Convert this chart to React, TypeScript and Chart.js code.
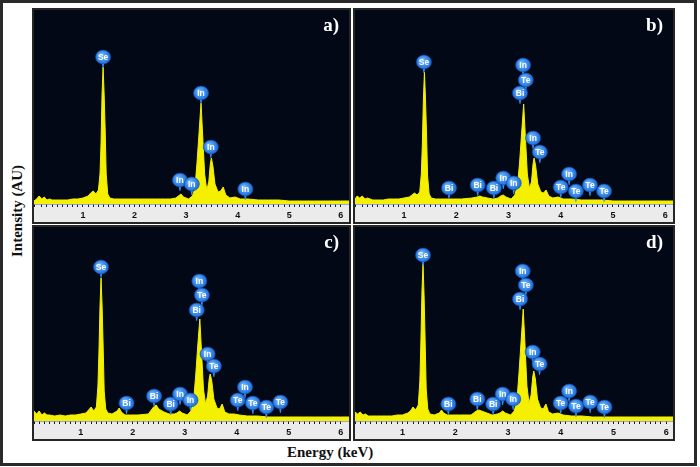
import React, { useEffect, useRef } from "react";
import { Chart, registerables } from "chart.js";

Chart.register(...registerables);

// Energy grid (keV)
const ENERGY = [
  0.05, 0.1, 0.15, 0.2, 0.25, 0.3, 0.35, 0.4, 0.5, 0.6, 0.7, 0.8, 0.9, 1.0, 1.1,
  1.15, 1.2, 1.25, 1.3, 1.33, 1.35, 1.37, 1.39, 1.41, 1.43, 1.45, 1.48, 1.52,
  1.6, 1.7, 1.74, 1.78, 1.85, 1.95, 2.1, 2.3, 2.4, 2.45, 2.5, 2.6, 2.7, 2.8,
  2.85, 2.9, 2.95, 3.05, 3.12, 3.17, 3.21, 3.25, 3.29, 3.32, 3.36, 3.4,
  3.44, 3.47, 3.49, 3.52, 3.56, 3.62, 3.67, 3.72, 3.77, 3.85, 3.95,
  4.05, 4.2, 4.4, 4.6, 4.8, 5.0, 5.5, 6.0, 6.16,
];

const SPEC_A = [
  3, 5, 8, 5, 7, 4, 5, 4, 4, 4, 4, 5, 5, 6, 8,
  11, 13, 10, 14, 30, 60, 110, 137, 110, 75, 30, 10, 6,
  5, 5, 5, 5, 5, 5, 5, 5, 5, 5, 5, 5, 5, 6,
  8, 10, 7, 5, 8, 15, 40, 70, 101, 70, 30, 14,
  22, 40, 46, 38, 20, 12, 13, 17, 9, 6, 7,
  5, 5, 4, 4, 4, 3, 3, 3, 3,
];

const SPEC_B = [
  4, 8, 6, 8, 5, 6, 5, 4, 4, 4, 5, 5, 5, 6, 7,
  9, 11, 9, 12, 30, 60, 105, 132, 105, 70, 28, 10, 6,
  5, 5, 5, 5, 5, 5, 5, 6, 7, 8, 7, 6, 5, 6,
  8, 9, 7, 5, 9, 18, 40, 70, 100, 70, 30, 16,
  22, 40, 46, 38, 20, 12, 11, 14, 8, 6, 7,
  5, 5, 4, 4, 4, 3, 3, 3, 3,
];

const SPEC_C = [
  4, 10, 7, 10, 6, 8, 6, 6, 5, 6, 5, 6, 6, 7, 8,
  11, 14, 10, 14, 35, 70, 115, 143, 115, 75, 30, 12, 8,
  7, 10, 13, 9, 6, 6, 6, 7, 14, 16, 12, 9, 7, 7,
  8, 10, 8, 6, 10, 20, 45, 75, 102, 72, 32, 17,
  25, 42, 47, 40, 22, 13, 12, 17, 9, 7, 7,
  6, 5, 5, 4, 4, 4, 4, 4, 4,
];

const SPEC_D = [
  4, 9, 7, 9, 6, 7, 5, 5, 5, 5, 5, 5, 6, 6, 8,
  10, 14, 11, 16, 40, 80, 130, 157, 125, 80, 32, 12, 7,
  6, 8, 11, 8, 6, 6, 6, 6, 10, 11, 10, 8, 6, 7,
  8, 10, 8, 6, 10, 20, 48, 80, 112, 80, 35, 18,
  26, 44, 50, 42, 22, 13, 12, 17, 9, 7, 8,
  6, 5, 5, 4, 4, 4, 4, 4, 4,
];

// Peak markers: [element, energy keV, marker height (same units as spectrum)]
const PEAKS_A: [string, number, number][] = [
  ["Se", 1.39, 147],
  ["In", 3.29, 111],
  ["In", 3.48, 57],
  ["In", 2.88, 24],
  ["In", 3.11, 20],
  ["In", 4.15, 15],
];

const PEAKS_B: [string, number, number][] = [
  ["Se", 1.38, 142],
  ["Bi", 1.86, 16],
  ["Bi", 2.41, 19],
  ["Bi", 2.72, 16],
  ["In", 2.9, 26],
  ["In", 3.1, 21],
  ["In", 3.28, 139],
  ["Te", 3.33, 124],
  ["Bi", 3.22, 111],
  ["In", 3.47, 66],
  ["Te", 3.6, 52],
  ["In", 4.16, 30],
  ["Te", 4.0, 17],
  ["Te", 4.29, 13],
  ["Te", 4.56, 19],
  ["Te", 4.83, 13],
];

const PEAKS_C: [string, number, number][] = [
  ["Se", 1.39, 154],
  ["Bi", 1.88, 18],
  ["Bi", 2.41, 25],
  ["Bi", 2.73, 17],
  ["In", 2.91, 27],
  ["In", 3.11, 21],
  ["In", 3.28, 140],
  ["Te", 3.33, 126],
  ["Bi", 3.23, 111],
  ["In", 3.44, 67],
  ["Te", 3.56, 55],
  ["In", 4.16, 34],
  ["Te", 4.02, 21],
  ["Te", 4.31, 18],
  ["Te", 4.57, 14],
  ["Te", 4.84, 19],
];

const PEAKS_D: [string, number, number][] = [
  ["Se", 1.39, 166],
  ["Bi", 1.87, 17],
  ["Bi", 2.42, 22],
  ["Bi", 2.72, 17],
  ["In", 2.9, 27],
  ["In", 3.1, 22],
  ["In", 3.28, 150],
  ["Te", 3.34, 136],
  ["Bi", 3.23, 122],
  ["In", 3.47, 69],
  ["Te", 3.6, 57],
  ["In", 4.16, 30],
  ["Te", 4.0, 18],
  ["Te", 4.29, 15],
  ["Te", 4.56, 19],
  ["Te", 4.83, 14],
];

const PANEL_LETTERS = ["a)", "b)", "c)", "d)"];
const X_RANGES: [number, number][] = [
  [0.05, 6.16],
  [0.06, 6.15],
  [0.1, 6.16],
  [0.1, 6.13],
];
const Y_MAX = 194;

const X_TITLE = "Energy (keV)";
const Y_TITLE = "Intensity (AU)";

type PanelProps = {
  spectrum: number[];
  peaks: [string, number, number][];
  xRange: [number, number];
  letter: string;
  left: number;
  top: number;
  width: number;
  height: number;
};

function Panel({ spectrum, peaks, xRange, letter, left, top, width, height }: PanelProps) {
  const ref = useRef<HTMLCanvasElement | null>(null);

  useEffect(() => {
    if (!ref.current) return;
    const plugin = {
      id: "edsPanel",
      beforeDraw(chart: any) {
        const { ctx, chartArea, width: w, height: h } = chart;
        ctx.save();
        ctx.fillStyle = "#ebebeb";
        ctx.fillRect(0, 0, w, h);
        ctx.fillStyle = "#030817";
        ctx.fillRect(chartArea.left, chartArea.top, chartArea.right - chartArea.left, chartArea.bottom - chartArea.top);
        ctx.restore();
      },
      afterDatasetsDraw(chart: any) {
        const { ctx } = chart;
        const xs = chart.scales.x;
        const ys = chart.scales.y;
        ctx.save();
        for (const [t, e, hgt] of peaks) {
          const x = xs.getPixelForValue(e);
          const cy = ys.getPixelForValue(hgt);
          // pin
          ctx.fillStyle = "#3a8ef0";
          ctx.beginPath();
          ctx.moveTo(x - 1.5, cy + 5);
          ctx.lineTo(x + 1.5, cy + 5);
          ctx.lineTo(x + 0.4, cy + 11);
          ctx.lineTo(x - 0.4, cy + 11);
          ctx.closePath();
          ctx.fill();
          // bubble
          const g = ctx.createRadialGradient(x - 2, cy - 2, 1, x, cy, 8);
          g.addColorStop(0, "#6fb8ff");
          g.addColorStop(1, "#1566d6");
          ctx.fillStyle = g;
          ctx.beginPath();
          ctx.ellipse(x, cy, 7.6, 6.9, 0, 0, Math.PI * 2);
          ctx.fill();
          ctx.strokeStyle = "#0b4dae";
          ctx.lineWidth = 0.6;
          ctx.stroke();
          ctx.fillStyle = "#ffffff";
          ctx.font = "bold 8.5px Arial, 'Liberation Sans', sans-serif";
          ctx.textAlign = "center";
          ctx.textBaseline = "middle";
          ctx.fillText(t, x, cy + 0.5);
        }
        ctx.restore();
      },
    };

    const chart = new Chart(ref.current, {
      type: "line",
      data: {
        datasets: [
          {
            data: ENERGY.map((e, i) => ({ x: e, y: spectrum[i] })),
            borderColor: "#f4f000",
            backgroundColor: "#f4f000",
            borderWidth: 1,
            fill: "origin",
            pointRadius: 0,
            tension: 0,
          },
        ],
      },
      options: {
        animation: false,
        responsive: false,
        maintainAspectRatio: false,
        events: [],
        layout: { padding: 0 },
        plugins: {
          legend: { display: false },
          tooltip: { enabled: false },
          title: { display: false },
        },
        scales: {
          x: {
            type: "linear",
            min: xRange[0],
            max: xRange[1],
            position: "bottom",
            border: { display: true, color: "#3b62d8", width: 1.5 },
            grid: {
              drawOnChartArea: false,
              drawTicks: true,
              tickLength: 3,
              color: "#1a1a2a",
              lineWidth: 1,
            },
            ticks: {
              stepSize: 0.1,
              autoSkip: false,
              maxRotation: 0,
              minRotation: 0,
              maxTicksLimit: 200,
              padding: 3,
              color: "#111111",
              font: { family: "Arial, 'Liberation Sans', sans-serif", weight: "bold", size: 9 },
              callback: (v: any) => {
                const n = Number(v);
                return Math.abs(n - Math.round(n)) < 1e-6 ? String(Math.round(n)) : "";
              },
            },
            afterFit: (s: any) => {
              s.height = 18;
              s.paddingLeft = 0;
              s.paddingRight = 0;
            },
          },
          y: {
            display: false,
            min: 0,
            max: Y_MAX,
          },
        },
      },
      plugins: [plugin],
    } as any);
    return () => chart.destroy();
  }, [spectrum, peaks, xRange]);

  return (
    <div
      style={{
        position: "absolute",
        left,
        top,
        width: width + 4,
        height: height + 4,
        border: "2px solid #262626",
        boxSizing: "border-box",
        background: "#ebebeb",
      }}
    >
      <canvas ref={ref} width={width} height={height} style={{ display: "block", width, height }} />
      <div
        style={{
          position: "absolute",
          right: 10,
          top: 5,
          color: "#ffffff",
          fontFamily: "'Liberation Serif', 'Times New Roman', serif",
          fontWeight: "bold",
          fontSize: 19,
          lineHeight: "19px",
        }}
      >
        {letter}
      </div>
    </div>
  );
}

export default function App() {
  return (
    <div
      style={{
        position: "fixed",
        left: 0,
        top: 0,
        width: 700,
        height: 467,
        background: "#ffffff",
        overflow: "hidden",
      }}
    >
      <div
        style={{
          position: "absolute",
          left: 0,
          top: 0,
          width: 697,
          height: 466,
          border: "3px solid #2a2a2a",
          boxSizing: "border-box",
        }}
      />
      <Panel spectrum={SPEC_A} peaks={PEAKS_A} xRange={X_RANGES[0]} letter={PANEL_LETTERS[0]} left={32} top={8} width={315} height={212} />
      <Panel spectrum={SPEC_B} peaks={PEAKS_B} xRange={X_RANGES[1]} letter={PANEL_LETTERS[1]} left={353} top={8} width={318} height={212} />
      <Panel spectrum={SPEC_C} peaks={PEAKS_C} xRange={X_RANGES[2]} letter={PANEL_LETTERS[2]} left={32} top={225} width={315} height={212} />
      <Panel spectrum={SPEC_D} peaks={PEAKS_D} xRange={X_RANGES[3]} letter={PANEL_LETTERS[3]} left={353} top={225} width={318} height={212} />
      <div
        style={{
          position: "absolute",
          left: 17,
          top: 211,
          transform: "translate(-50%, -50%) rotate(-90deg)",
          whiteSpace: "nowrap",
          fontFamily: "'Liberation Serif', 'Times New Roman', serif",
          fontWeight: "bold",
          fontSize: 15,
          lineHeight: "15px",
          color: "#111",
        }}
      >
        {Y_TITLE}
      </div>
      <div
        style={{
          position: "absolute",
          left: 287,
          top: 444,
          whiteSpace: "nowrap",
          fontFamily: "'Liberation Serif', 'Times New Roman', serif",
          fontWeight: "bold",
          fontSize: 15,
          lineHeight: "16px",
          color: "#111",
        }}
      >
        {X_TITLE}
      </div>
    </div>
  );
}
